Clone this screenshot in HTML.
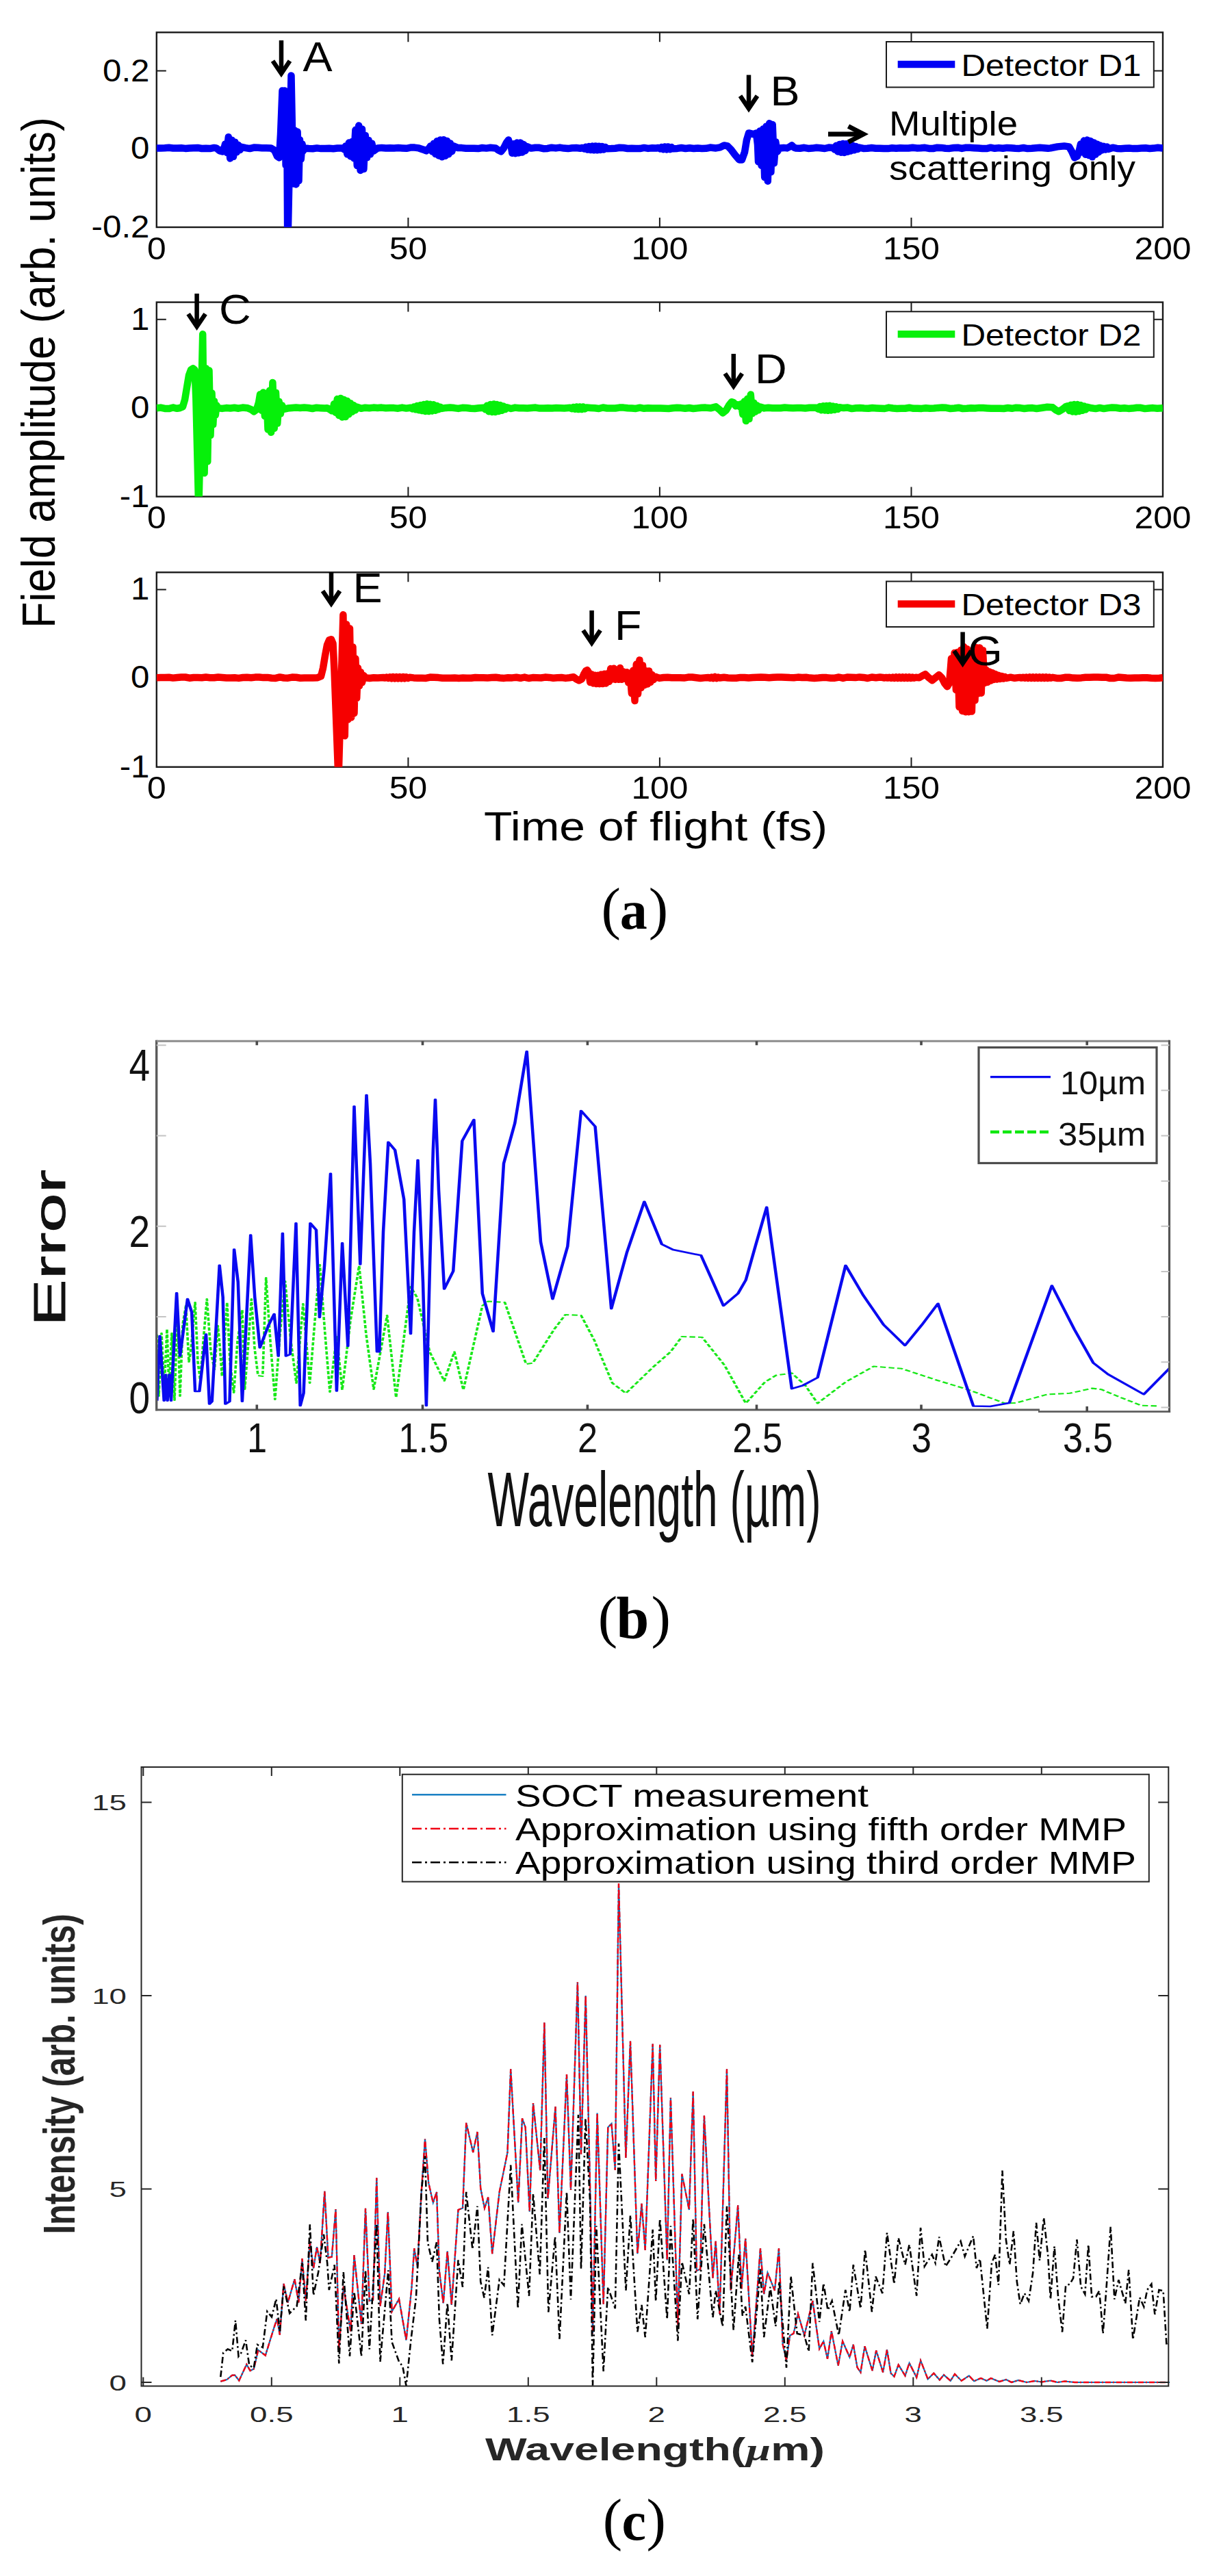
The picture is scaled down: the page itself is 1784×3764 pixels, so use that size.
<!DOCTYPE html>
<html><head><meta charset="utf-8"><title>Figure</title>
<style>
html,body{margin:0;padding:0;background:#fff;}
svg{display:block;font-family:"Liberation Sans", Arial, sans-serif;}
</style></head><body>
<svg width="1784" height="3764" viewBox="0 0 1784 3764">
<rect width="1784" height="3764" fill="#fff"/>
<g><rect x="228.8" y="47.3" width="1470.2" height="284.7" fill="none" stroke="#1a1a1a" stroke-width="2.4"/><path d="M596.4,332.0v-14M596.4,47.3v14M963.9,332.0v-14M963.9,47.3v14M1331.5,332.0v-14M1331.5,47.3v14M228.8,103.5h14M1699.0,103.5h-14M228.8,216.6h14M1699.0,216.6h-14" stroke="#1a1a1a" stroke-width="2" fill="none"/><clipPath id="cpa1"><rect x="228.8" y="47.3" width="1470.2" height="284.7"/></clipPath><polyline clip-path="url(#cpa1)" points="228.8,216.4 234.8,216.5 240.8,216.3 246.8,215.7 252.8,216.5 258.8,216.4 264.8,216.3 270.8,216.9 276.8,216.4 282.8,216.2 288.8,215.9 294.8,217.0 300.8,216.7 306.8,217.1 312.8,215.9 316.0,216.4 321.0,220.4 325.0,221.4 328.0,214.4 329.0,210.4 331.4,222.8 333.8,200.2 336.2,231.4 338.6,204.8 341.0,228.8 343.4,207.7 345.8,222.4 348.2,211.9 350.6,219.1 353.0,214.9 359.0,216.1 365.0,217.1 371.0,215.6 377.0,215.7 383.0,216.2 389.0,216.2 396.0,216.4 401.0,219.4 405.0,228.4 408.0,230.4 410.0,196.4 412.5,132.4 414.3,186.4 416.0,132.4 417.6,241.4 419.0,136.4 420.3,366.4 425.5,110.4 428.5,268.4 430.6,190.4 432.6,269.4 434.6,192.4 436.5,264.4 438.0,204.4 439.8,232.4 441.5,210.4 443.0,220.4 445.0,216.4 451.0,216.9 457.0,217.2 463.0,216.4 469.0,217.1 475.0,216.9 481.0,216.8 487.0,217.2 493.0,216.5 500.0,216.4 503.0,218.4 505.0,213.4 507.4,225.3 509.8,208.6 512.2,228.4 514.6,206.9 517.0,231.1 519.4,189.8 521.8,242.0 524.2,183.5 526.6,249.0 529.0,188.4 531.4,247.0 533.8,198.0 536.2,230.2 538.6,205.0 541.0,225.4 543.4,209.8 545.8,220.6 551.8,216.5 557.8,215.9 563.8,216.4 569.8,216.2 575.8,216.4 581.8,216.1 587.8,216.5 593.8,216.8 599.8,215.6 605.8,215.6 612.0,216.4 618.0,218.4 623.0,220.4 627.0,216.4 629.0,213.4 631.4,221.3 633.8,209.7 636.2,225.0 638.6,206.2 641.0,227.5 643.4,204.4 645.8,229.3 648.2,204.2 650.6,227.7 653.0,206.0 655.4,225.3 657.8,209.4 660.2,221.4 662.6,213.3 668.6,215.9 674.6,216.1 680.6,216.7 686.6,216.8 692.6,216.7 698.6,217.1 704.6,216.0 710.6,216.6 716.6,215.8 724.0,216.4 728.0,219.4 732.0,221.4 736.0,216.4 740.0,208.4 743.0,204.4 745.0,212.4 746.0,209.4 748.4,223.8 750.8,210.2 753.2,224.2 755.6,208.6 758.0,223.4 760.4,208.6 762.8,222.6 765.2,211.1 767.6,220.2 770.0,214.1 776.0,216.6 782.0,215.7 788.0,215.8 794.0,217.2 800.0,216.9 806.0,215.7 812.0,216.4 818.0,215.6 824.0,216.6 830.0,217.1 836.0,216.2 842.0,216.0 848.0,216.8 851.0,215.9 853.4,217.4 855.8,214.8 858.2,218.5 860.6,213.9 863.0,219.1 865.4,213.6 867.8,219.3 870.2,213.4 872.6,219.3 875.0,213.7 877.4,219.0 879.8,213.9 882.2,218.4 884.6,215.0 887.0,217.2 893.0,217.1 899.0,216.7 905.0,215.7 911.0,216.0 917.0,217.0 923.0,216.8 929.0,217.0 935.0,217.1 941.0,215.9 947.0,216.9 953.0,216.3 959.0,216.5 962.0,215.9 964.4,217.3 966.8,215.0 969.2,218.2 971.6,214.4 974.0,218.4 976.4,214.4 978.8,218.2 981.2,215.1 983.6,217.2 989.6,216.9 995.6,216.0 1001.6,217.0 1007.6,216.2 1013.6,217.0 1019.6,216.5 1025.6,216.9 1031.6,216.8 1037.6,215.6 1046.0,216.4 1052.0,215.4 1058.0,212.4 1063.0,213.4 1068.0,218.4 1074.0,226.4 1080.0,233.4 1084.0,233.4 1088.0,222.4 1091.0,204.4 1094.0,194.4 1098.0,195.4 1102.0,196.4 1105.0,194.4 1107.0,211.4 1108.0,236.4 1110.3,191.5 1112.6,241.9 1114.9,188.5 1117.2,259.1 1119.5,184.7 1121.8,264.8 1124.1,180.3 1126.4,251.6 1128.7,182.0 1131.0,238.4 1133.3,207.3 1135.6,221.8 1139.0,216.4 1145.0,215.9 1150.0,216.4 1154.0,214.4 1157.0,212.4 1160.0,215.4 1163.0,216.4 1169.0,216.7 1175.0,215.8 1181.0,216.9 1187.0,216.6 1193.0,215.8 1199.0,216.2 1205.0,217.0 1211.0,215.6 1217.0,215.9 1219.4,218.4 1221.8,212.8 1224.2,221.5 1226.6,210.9 1229.0,222.7 1231.4,210.0 1233.8,222.9 1236.2,210.2 1238.6,221.7 1241.0,210.8 1243.4,220.5 1245.8,212.6 1248.2,219.3 1250.6,214.1 1253.0,218.0 1255.4,215.5 1261.4,216.9 1267.4,216.8 1273.4,216.0 1279.4,216.7 1285.4,216.7 1291.4,217.1 1297.4,217.1 1303.4,216.3 1309.4,216.8 1315.4,216.2 1321.4,216.6 1327.4,216.5 1333.4,215.7 1339.4,216.4 1345.4,216.3 1351.4,215.8 1357.4,216.9 1363.4,217.0 1369.4,215.7 1375.4,215.9 1381.4,216.8 1387.4,216.9 1393.4,216.0 1399.4,215.7 1405.4,216.9 1411.4,215.7 1417.4,215.8 1423.4,216.2 1429.4,216.5 1435.4,217.0 1441.4,217.1 1447.4,215.7 1453.4,216.8 1459.4,216.1 1465.4,216.8 1471.4,215.9 1477.4,216.2 1483.4,216.7 1489.4,216.9 1495.4,216.0 1501.4,217.1 1507.4,216.8 1513.4,216.3 1519.4,215.8 1525.4,216.2 1531.4,216.8 1535.0,216.4 1545.0,214.4 1555.0,213.4 1562.0,214.4 1566.0,221.4 1570.0,230.4 1574.0,228.4 1577.0,219.4 1579.0,210.4 1581.4,222.3 1583.8,205.6 1586.2,225.8 1588.6,204.6 1591.0,226.9 1593.4,206.1 1595.8,229.3 1598.2,208.5 1600.6,225.6 1603.0,210.8 1605.4,222.3 1607.8,212.6 1610.2,219.4 1612.6,213.8 1615.0,218.6 1617.4,214.6 1619.8,217.8 1625.8,215.7 1631.8,216.9 1637.8,217.2 1643.8,216.8 1649.8,216.5 1655.8,217.1 1661.8,216.9 1667.8,216.6 1673.8,216.3 1679.8,217.0 1685.8,216.6 1691.8,215.8 1699.0,216.4" fill="none" stroke="#0000f5" stroke-width="10.5" stroke-linejoin="round" stroke-linecap="butt"/><text transform="translate(228.8,378.5) scale(1.0700,1)" font-size="46.5" text-anchor="middle">0</text><text transform="translate(596.4,378.5) scale(1.0700,1)" font-size="46.5" text-anchor="middle">50</text><text transform="translate(963.9,378.5) scale(1.0700,1)" font-size="46.5" text-anchor="middle">100</text><text transform="translate(1331.5,378.5) scale(1.0700,1)" font-size="46.5" text-anchor="middle">150</text><text transform="translate(1699.0,378.5) scale(1.0700,1)" font-size="46.5" text-anchor="middle">200</text><text transform="translate(218.5,118.5) scale(1.0600,1)" font-size="46.5" text-anchor="end">0.2</text><text transform="translate(218.5,231.6) scale(1.0600,1)" font-size="46.5" text-anchor="end">0</text><text transform="translate(218.5,346.8) scale(1.0600,1)" font-size="46.5" text-anchor="end">-0.2</text><rect x="1295" y="61" width="390.8" height="66.5" fill="#fff" stroke="#1a1a1a" stroke-width="2"/><path d="M1311.7,94H1395.3" stroke="#0000f5" stroke-width="10.5"/><text transform="translate(1404.5,110.5)" font-size="45" textLength="263" lengthAdjust="spacingAndGlyphs">Detector D1</text><path d="M411,59V106.5" stroke="#000" stroke-width="6.5" fill="none"/><path d="M398.5,89.0L411,107.5L423.5,89.0" stroke="#000" stroke-width="6.5" fill="none" stroke-linejoin="miter" stroke-miterlimit="10" stroke-linecap="butt"/><text transform="translate(442.5,104.3) scale(1.0600,1)" font-size="61">A</text><path d="M1094,109.5V157.6" stroke="#000" stroke-width="6.5" fill="none"/><path d="M1081.5,140.1L1094,158.6L1106.5,140.1" stroke="#000" stroke-width="6.5" fill="none" stroke-linejoin="miter" stroke-miterlimit="10" stroke-linecap="butt"/><text transform="translate(1125.5,153.6) scale(1.0600,1)" font-size="61">B</text><path d="M1210,196H1260.5" stroke="#000" stroke-width="7" fill="none"/><path d="M1239.5,184.5L1261.5,196L1239.5,207.5" stroke="#000" stroke-width="7" fill="none" stroke-miterlimit="10"/><text transform="translate(1299.0,198.4)" font-size="49.5" textLength="188" lengthAdjust="spacingAndGlyphs">Multiple</text><text transform="translate(1299.0,262.8)" font-size="49.5" textLength="238" lengthAdjust="spacingAndGlyphs">scattering</text><text transform="translate(1561.0,262.8)" font-size="49.5" textLength="98" lengthAdjust="spacingAndGlyphs">only</text></g><g><rect x="228.8" y="441.6" width="1470.2" height="284.0" fill="none" stroke="#1a1a1a" stroke-width="2.4"/><path d="M596.4,725.6v-14M596.4,441.6v14M963.9,725.6v-14M963.9,441.6v14M1331.5,725.6v-14M1331.5,441.6v14M228.8,466.7h14M1699.0,466.7h-14M228.8,596.2h14M1699.0,596.2h-14" stroke="#1a1a1a" stroke-width="2" fill="none"/><clipPath id="cpa2"><rect x="228.8" y="441.6" width="1470.2" height="284.0"/></clipPath><polyline clip-path="url(#cpa2)" points="228.8,596.3 234.8,595.6 240.8,596.9 246.8,597.1 252.8,595.5 258.8,596.8 262.0,596.3 267.0,594.3 270.0,584.3 273.0,566.3 276.0,548.3 279.0,540.3 282.0,538.3 284.5,540.3 286.3,581.3 290.3,746.3 296.2,488.3 298.6,691.3 301.0,538.3 303.3,674.3 305.5,541.3 307.5,636.3 309.5,574.3 311.3,620.3 313.0,586.3 314.8,606.3 316.5,592.3 318.5,596.3 324.5,596.9 330.5,596.1 336.5,596.5 342.5,595.7 348.5,596.7 354.5,595.6 362.0,596.3 367.0,598.3 371.0,601.3 375.0,598.3 378.0,588.3 380.0,576.3 382.3,599.8 384.6,573.4 386.9,608.1 389.2,575.9 391.5,627.6 393.8,570.8 396.1,631.8 398.4,558.9 400.7,626.0 403.0,573.8 405.3,618.5 407.6,586.7 409.9,604.6 412.2,592.5 414.5,598.0 420.5,596.6 426.5,596.1 432.5,595.6 438.5,596.0 444.5,595.6 450.5,596.0 456.5,597.0 462.5,595.7 468.5,596.2 474.5,596.6 478.0,596.3 482.0,598.3 485.0,600.3 487.0,596.3 488.0,590.3 490.4,602.7 492.8,583.1 495.2,607.0 497.6,582.0 500.0,609.5 502.4,584.0 504.8,608.9 507.2,586.0 509.6,605.2 512.0,589.2 514.4,601.7 516.8,592.2 519.2,599.2 521.6,594.6 527.6,596.8 533.6,595.7 539.6,596.2 545.6,595.6 551.6,595.9 557.6,595.6 563.6,596.2 569.6,596.0 575.6,596.1 581.6,596.7 587.6,595.6 593.6,596.6 600.0,595.8 602.4,597.3 604.8,594.4 607.2,598.3 609.6,593.0 612.0,599.3 614.4,591.9 616.8,600.1 619.2,591.1 621.6,600.9 624.0,590.3 626.4,601.1 628.8,590.8 631.2,600.6 633.6,591.3 636.0,599.7 638.4,592.9 640.8,598.3 643.2,594.7 645.6,596.9 651.6,595.9 657.6,595.6 663.6,596.1 669.6,596.9 675.6,595.8 681.6,596.0 687.6,596.8 693.6,597.0 699.6,596.2 707.0,595.8 709.4,598.3 711.8,592.7 714.2,601.3 716.6,591.0 719.0,601.9 721.4,590.4 723.8,601.9 726.2,591.1 728.6,601.0 731.0,592.1 733.4,599.8 735.8,593.6 738.2,598.1 740.6,595.3 746.6,597.0 752.6,595.6 758.6,596.3 764.6,596.3 770.6,596.4 776.6,596.0 782.6,595.6 788.6,596.6 794.6,596.5 800.6,596.2 806.6,596.6 812.6,596.1 818.6,596.2 824.6,596.4 833.0,595.8 835.4,597.1 837.8,595.1 840.2,597.8 842.6,594.5 845.0,598.1 847.4,594.5 849.8,598.1 852.2,594.5 854.6,597.5 857.0,595.6 863.0,596.0 869.0,596.3 875.0,597.0 881.0,595.5 887.0,596.5 893.0,596.4 899.0,596.5 905.0,595.6 911.0,595.6 917.0,596.3 923.0,596.5 929.0,596.9 935.0,595.7 941.0,596.8 947.0,596.2 953.0,596.5 959.0,596.6 965.0,596.5 971.0,596.8 977.0,597.0 983.0,596.2 989.0,595.8 995.0,596.1 1001.0,596.8 1007.0,596.0 1013.0,597.0 1019.0,596.4 1025.0,595.8 1031.0,595.6 1038.0,596.3 1046.0,594.3 1051.0,598.3 1056.0,603.3 1061.0,599.3 1065.0,592.3 1069.0,587.3 1072.0,588.3 1075.0,593.3 1078.0,591.3 1081.0,594.3 1083.0,590.3 1085.3,605.4 1087.6,586.6 1089.9,615.1 1092.2,582.7 1094.5,612.1 1096.8,576.6 1099.1,604.2 1101.4,588.7 1103.7,601.5 1106.0,592.3 1108.3,599.2 1110.6,594.6 1116.6,596.4 1122.6,595.7 1128.6,596.3 1134.6,596.3 1140.6,596.2 1146.6,595.5 1152.6,595.9 1158.6,596.3 1164.6,595.9 1170.6,596.1 1176.6,596.5 1182.6,595.8 1188.6,595.8 1193.0,595.8 1195.4,597.7 1197.8,594.1 1200.2,599.3 1202.6,593.2 1205.0,599.5 1207.4,593.0 1209.8,599.7 1212.2,592.8 1214.6,599.4 1217.0,593.6 1219.4,598.7 1221.8,594.3 1224.2,597.8 1226.6,595.3 1232.6,596.1 1238.6,595.6 1244.6,597.1 1250.6,596.3 1256.6,596.1 1262.6,596.6 1268.6,596.8 1274.6,596.0 1280.6,596.4 1286.6,596.7 1292.6,597.0 1298.6,595.6 1304.6,596.5 1310.6,596.9 1316.6,596.8 1322.6,596.7 1328.6,595.7 1334.6,596.8 1340.6,596.7 1346.6,596.9 1352.6,596.3 1358.6,596.8 1364.6,596.5 1370.6,595.9 1376.6,595.6 1382.6,595.8 1388.6,597.0 1394.6,596.5 1400.6,595.7 1406.6,597.0 1412.6,596.8 1418.6,596.3 1424.6,596.5 1430.6,595.9 1436.6,596.0 1442.6,596.4 1448.6,596.7 1454.6,596.7 1460.6,596.7 1466.6,597.0 1472.6,596.0 1478.6,596.8 1484.6,595.7 1490.6,596.1 1496.6,597.0 1502.6,596.3 1508.6,596.1 1514.6,597.0 1520.0,596.3 1530.0,594.8 1538.0,595.3 1543.0,599.3 1547.0,601.3 1552.0,598.3 1557.0,594.3 1560.0,593.3 1562.4,600.1 1564.8,591.7 1567.2,601.4 1569.6,591.0 1572.0,601.7 1574.4,591.1 1576.8,601.0 1579.2,592.1 1581.6,599.8 1584.0,593.5 1586.4,598.4 1588.8,594.9 1594.8,596.3 1600.8,597.1 1606.8,595.9 1612.8,597.1 1618.8,596.1 1624.8,595.5 1630.8,595.7 1636.8,596.7 1642.8,596.2 1648.8,596.9 1654.8,596.6 1660.8,595.7 1666.8,595.8 1672.8,597.1 1678.8,596.5 1684.8,596.1 1690.8,596.8 1699.0,596.3" fill="none" stroke="#06f00a" stroke-width="10.5" stroke-linejoin="round" stroke-linecap="butt"/><text transform="translate(228.8,772.1) scale(1.0700,1)" font-size="46.5" text-anchor="middle">0</text><text transform="translate(596.4,772.1) scale(1.0700,1)" font-size="46.5" text-anchor="middle">50</text><text transform="translate(963.9,772.1) scale(1.0700,1)" font-size="46.5" text-anchor="middle">100</text><text transform="translate(1331.5,772.1) scale(1.0700,1)" font-size="46.5" text-anchor="middle">150</text><text transform="translate(1699.0,772.1) scale(1.0700,1)" font-size="46.5" text-anchor="middle">200</text><text transform="translate(218.5,481.7) scale(1.0600,1)" font-size="46.5" text-anchor="end">1</text><text transform="translate(218.5,611.2) scale(1.0600,1)" font-size="46.5" text-anchor="end">0</text><text transform="translate(218.5,740.5) scale(1.0600,1)" font-size="46.5" text-anchor="end">-1</text><rect x="1295" y="455.3" width="390.8" height="66.5" fill="#fff" stroke="#1a1a1a" stroke-width="2"/><path d="M1311.7,488.3H1395.3" stroke="#06f00a" stroke-width="10.5"/><text transform="translate(1404.5,504.8)" font-size="45" textLength="263" lengthAdjust="spacingAndGlyphs">Detector D2</text><path d="M287.6,429V476.3" stroke="#000" stroke-width="6.5" fill="none"/><path d="M275.1,458.8L287.6,477.3L300.1,458.8" stroke="#000" stroke-width="6.5" fill="none" stroke-linejoin="miter" stroke-miterlimit="10" stroke-linecap="butt"/><text transform="translate(320.0,472.8) scale(1.0600,1)" font-size="61">C</text><path d="M1071.8,517V563.3" stroke="#000" stroke-width="6.5" fill="none"/><path d="M1059.3,545.8L1071.8,564.3L1084.3,545.8" stroke="#000" stroke-width="6.5" fill="none" stroke-linejoin="miter" stroke-miterlimit="10" stroke-linecap="butt"/><text transform="translate(1103.0,560.0) scale(1.0600,1)" font-size="61">D</text></g><g><rect x="228.8" y="836.3" width="1470.2" height="284.4000000000001" fill="none" stroke="#1a1a1a" stroke-width="2.4"/><path d="M596.4,1120.7v-14M596.4,836.3v14M963.9,1120.7v-14M963.9,836.3v14M1331.5,1120.7v-14M1331.5,836.3v14M228.8,861.4h14M1699.0,861.4h-14M228.8,990.4h14M1699.0,990.4h-14" stroke="#1a1a1a" stroke-width="2" fill="none"/><clipPath id="cpa3"><rect x="228.8" y="836.3" width="1470.2" height="284.4000000000001"/></clipPath><polyline clip-path="url(#cpa3)" points="228.8,990.2 234.8,990.1 240.8,990.0 246.8,989.7 252.8,990.6 258.8,990.0 264.8,989.6 270.8,989.5 276.8,990.7 282.8,990.0 288.8,990.0 294.8,990.2 300.8,989.5 306.8,990.2 312.8,990.3 318.8,989.5 324.8,990.0 330.8,990.5 336.8,990.5 342.8,990.2 348.8,990.9 354.8,990.0 360.8,989.8 366.8,990.3 372.8,989.6 378.8,989.5 384.8,990.1 390.8,989.9 396.8,990.8 402.8,990.9 408.8,989.4 414.8,990.5 420.8,990.7 426.8,989.6 432.8,989.8 438.8,990.8 444.8,990.5 450.8,990.6 456.8,990.6 464.0,990.2 469.0,988.2 472.0,976.2 475.0,958.2 478.0,942.2 481.0,935.2 484.0,934.2 486.5,940.2 488.5,980.2 494.5,1140.2 501.4,898.2 503.8,1075.2 506.2,912.2 508.6,1051.2 511.0,918.2 513.3,1048.2 515.5,945.2 517.5,1042.2 519.4,962.2 521.2,1020.2 523.0,976.2 525.0,1002.2 527.0,982.2 529.0,997.2 531.5,987.2 534.0,990.2 540.0,991.0 546.0,990.2 552.0,990.5 560.0,989.9 562.4,990.6 564.8,989.6 567.2,990.9 569.6,989.3 572.0,991.2 574.4,989.0 576.8,991.4 579.2,989.0 581.6,991.4 584.0,989.0 586.4,991.4 588.8,989.0 591.2,991.3 593.6,989.3 596.0,990.9 598.4,989.8 604.4,990.4 610.4,990.7 616.4,990.8 622.4,990.9 628.4,989.6 634.4,989.8 640.4,990.1 646.4,990.8 652.4,990.8 658.4,990.8 664.4,990.5 670.4,990.9 676.4,990.6 682.4,990.7 688.4,990.7 694.4,990.0 700.4,990.3 706.4,990.2 712.4,990.4 718.4,990.1 724.4,989.7 730.4,990.5 736.4,990.9 742.4,990.2 748.4,990.4 754.4,989.8 760.4,990.8 766.4,989.6 772.4,991.0 778.4,990.1 784.4,990.3 790.4,990.5 796.4,989.6 802.4,989.9 808.4,990.7 814.4,990.2 820.4,990.0 826.4,990.9 832.0,990.2 838.0,989.2 842.0,992.2 846.0,994.2 850.0,992.2 853.0,985.2 856.0,980.2 858.0,979.2 860.0,982.2 862.3,997.0 864.6,985.3 866.9,998.4 869.2,986.7 871.5,999.1 873.8,986.8 876.1,999.2 878.4,985.6 880.7,999.1 883.0,984.8 885.3,998.5 887.6,984.3 889.9,995.8 892.2,977.1 894.5,992.4 896.8,976.7 899.1,992.9 901.4,979.9 903.7,992.8 906.0,976.0 908.3,992.8 910.6,981.5 912.9,991.7 916.0,982.2 918.3,997.6 920.6,983.9 922.9,1013.2 925.2,979.8 927.5,1024.1 929.8,970.6 932.1,1013.8 934.4,964.4 936.7,1004.8 939.0,972.2 941.3,1001.1 943.6,980.2 945.9,999.6 948.2,980.4 950.5,996.7 952.8,986.0 955.1,992.9 957.4,988.8 963.4,990.9 969.4,990.0 975.4,989.8 981.4,990.3 987.4,990.3 993.4,990.2 999.4,990.6 1005.4,989.6 1011.4,989.5 1017.4,990.2 1023.4,991.0 1029.4,990.4 1035.0,989.9 1037.4,990.7 1039.8,989.5 1042.2,991.1 1044.6,989.0 1047.0,991.1 1049.4,989.6 1051.8,990.5 1057.8,989.7 1063.8,990.5 1069.8,990.8 1075.8,990.7 1081.8,989.9 1087.8,990.0 1093.8,990.5 1099.8,990.0 1105.8,989.8 1111.8,989.5 1117.8,989.7 1123.8,990.3 1129.8,989.7 1135.8,989.5 1141.8,989.6 1147.8,989.8 1153.8,990.1 1159.8,990.2 1165.8,989.6 1171.8,990.0 1177.8,989.8 1183.8,990.6 1189.8,990.9 1195.8,990.6 1201.8,990.1 1207.8,990.1 1213.8,990.7 1219.8,990.7 1225.8,989.5 1231.8,990.9 1237.8,989.5 1243.8,989.8 1249.8,990.1 1255.8,989.4 1261.8,989.9 1267.8,991.0 1273.8,989.5 1279.8,990.3 1285.8,989.5 1290.0,990.0 1292.4,990.5 1294.8,989.9 1297.2,990.6 1299.6,989.7 1302.0,990.8 1304.4,989.6 1306.8,990.9 1309.2,989.4 1311.6,991.0 1314.0,989.4 1316.4,991.0 1318.8,989.4 1321.2,991.0 1323.6,989.4 1326.0,991.0 1328.4,989.4 1330.8,991.0 1333.2,989.6 1335.6,990.7 1338.0,989.8 1343.0,990.2 1348.0,987.2 1352.0,985.2 1357.0,990.2 1362.0,994.2 1367.0,990.2 1372.0,986.2 1376.0,990.2 1380.0,998.2 1384.0,1003.2 1387.0,998.2 1389.0,975.2 1390.0,962.2 1392.3,993.3 1394.6,953.9 1396.9,1008.2 1399.2,952.9 1401.5,1033.2 1403.8,950.1 1406.1,1038.9 1408.4,945.1 1410.7,1040.2 1413.0,948.2 1415.3,1040.2 1417.6,953.1 1419.9,1039.6 1422.2,950.0 1424.5,1023.6 1426.8,946.2 1429.1,1013.6 1431.4,946.5 1433.7,1012.7 1436.0,950.2 1438.3,998.1 1440.6,978.8 1442.9,996.8 1445.2,981.4 1447.5,994.5 1449.8,983.1 1452.1,993.0 1454.4,985.0 1456.7,992.5 1459.0,986.8 1461.3,992.0 1463.6,987.9 1465.9,991.5 1468.2,988.9 1470.5,990.9 1476.5,989.7 1482.5,990.8 1490.0,989.9 1492.4,990.6 1494.8,989.7 1497.2,990.7 1499.6,989.6 1502.0,990.9 1504.4,989.4 1506.8,991.0 1509.2,989.4 1511.6,991.0 1514.0,989.4 1516.4,991.0 1518.8,989.4 1521.2,991.0 1523.6,989.4 1526.0,991.0 1528.4,989.4 1530.8,991.0 1533.2,989.6 1535.6,990.7 1538.0,989.8 1544.0,990.9 1550.0,991.0 1556.0,989.8 1562.0,989.7 1568.0,990.6 1574.0,990.8 1580.0,990.4 1586.0,989.7 1592.0,989.8 1598.0,989.6 1604.0,989.5 1610.0,989.8 1616.0,989.7 1622.0,991.0 1628.0,991.0 1634.0,989.6 1640.0,990.0 1646.0,990.5 1652.0,990.8 1658.0,990.5 1664.0,990.5 1670.0,990.2 1676.0,990.3 1682.0,990.7 1688.0,990.9 1694.0,990.7 1699.0,990.2" fill="none" stroke="#f60000" stroke-width="10.5" stroke-linejoin="round" stroke-linecap="butt"/><text transform="translate(228.8,1167.2) scale(1.0700,1)" font-size="46.5" text-anchor="middle">0</text><text transform="translate(596.4,1167.2) scale(1.0700,1)" font-size="46.5" text-anchor="middle">50</text><text transform="translate(963.9,1167.2) scale(1.0700,1)" font-size="46.5" text-anchor="middle">100</text><text transform="translate(1331.5,1167.2) scale(1.0700,1)" font-size="46.5" text-anchor="middle">150</text><text transform="translate(1699.0,1167.2) scale(1.0700,1)" font-size="46.5" text-anchor="middle">200</text><text transform="translate(218.5,876.4) scale(1.0600,1)" font-size="46.5" text-anchor="end">1</text><text transform="translate(218.5,1005.4) scale(1.0600,1)" font-size="46.5" text-anchor="end">0</text><text transform="translate(218.5,1135.5) scale(1.0600,1)" font-size="46.5" text-anchor="end">-1</text><rect x="1295" y="849.5" width="390.8" height="66.5" fill="#fff" stroke="#1a1a1a" stroke-width="2"/><path d="M1311.7,882.5H1395.3" stroke="#f60000" stroke-width="10.5"/><text transform="translate(1404.5,899.0)" font-size="45" textLength="263" lengthAdjust="spacingAndGlyphs">Detector D3</text><path d="M484,836V881" stroke="#000" stroke-width="6.5" fill="none"/><path d="M471.5,863.5L484,882L496.5,863.5" stroke="#000" stroke-width="6.5" fill="none" stroke-linejoin="miter" stroke-miterlimit="10" stroke-linecap="butt"/><text transform="translate(515.6,880.0) scale(1.0600,1)" font-size="61">E</text><path d="M864.6,892V938.5" stroke="#000" stroke-width="6.5" fill="none"/><path d="M852.1,921.0L864.6,939.5L877.1,921.0" stroke="#000" stroke-width="6.5" fill="none" stroke-linejoin="miter" stroke-miterlimit="10" stroke-linecap="butt"/><text transform="translate(898.0,935.0) scale(1.0600,1)" font-size="61">F</text><path d="M1406.6,923.5V968.5" stroke="#000" stroke-width="6.5" fill="none"/><path d="M1394.1,951.0L1406.6,969.5L1419.1,951.0" stroke="#000" stroke-width="6.5" fill="none" stroke-linejoin="miter" stroke-miterlimit="10" stroke-linecap="butt"/><text transform="translate(1414.5,971.5) scale(1.0600,1)" font-size="61">G</text></g><text transform="translate(707.0,1228.4)" font-size="60" textLength="502" lengthAdjust="spacingAndGlyphs">Time of flight (fs)</text><text transform="translate(80.0,918.0) rotate(-90)" font-size="68" textLength="747" lengthAdjust="spacingAndGlyphs">Field amplitude (arb. units)</text>
<g><clipPath id="cpb"><rect x="228.7" y="1521.2" width="1479.8" height="538.8"/></clipPath><g clip-path="url(#cpb)"><g transform="scale(1.75,1)"><polyline points="130.86,1950.0 132.57,2040.0 134.86,1948.0 137.14,2030.0 139.43,1942.0 141.14,2030.0 143.43,1948.0 145.71,2046.0 148.17,1913.0 150.29,2040.0 152.57,1935.0 155.20,1908.0 157.71,1990.0 159.43,1972.0 162.91,1903.0 165.14,1990.0 167.14,2016.0 169.71,1960.0 172.74,1898.0 176.00,1975.0 179.09,2001.0 181.89,1937.0 183.43,1965.0 185.37,2011.0 189.60,1903.0 192.00,1990.0 195.20,2035.0 198.29,1960.0 202.23,1914.0 204.34,2030.0 207.43,1960.0 209.94,1898.0 212.57,1970.0 215.43,2010.0 219.31,2011.0 222.11,1867.0 225.71,1960.0 229.60,2045.0 233.71,1950.0 238.06,1872.0 242.86,1960.0 247.43,2021.0 253.03,1905.0 258.63,2021.0 262.86,1930.0 267.03,1848.0 271.43,1950.0 275.43,2034.0 281.14,1952.0 285.71,2031.0 292.57,1930.0 299.83,1849.5 305.71,1950.0 312.00,2030.0 323.20,1922.0 330.69,2042.0 342.86,1880.0 348.46,1896.6 358.74,1975.2 370.91,2017.8 379.37,1975.2 386.86,2030.9 402.74,1908.0 407.43,1901.5 421.49,1903.0 439.26,1993.2 444.86,1991.6 462.69,1942.4 472.00,1921.0 485.14,1922.0 496.34,1958.8 511.31,2021.0 522.57,2035.8 545.03,1998.0 560.00,1975.0 569.37,1953.0 586.23,1954.0 604.91,1994.8 622.69,2050.5 638.63,2019.4 648.00,2009.6 661.09,2006.3 672.34,2024.3 682.63,2050.5 706.00,2019.4 729.43,1996.5 752.80,1999.8 782.74,2017.0 808.97,2030.9 838.86,2050.5 848.29,2049.9 874.51,2037.4 893.14,2035.8 911.94,2028.6 919.43,2030.2 936.29,2042.4 953.14,2053.8 968.00,2054.5" fill="none" stroke="#18e818" stroke-width="2.1" stroke-dasharray="4.8 2.4" stroke-linejoin="round"/><polyline points="131.03,2046.6 133.43,1952.0 136.97,2046.6 138.34,2008.5 139.77,2046.6 141.43,2008.5 142.86,2046.6 147.49,1889.3 150.29,1981.5 156.57,1898.0 160.11,1917.6 162.91,2033.0 166.46,2033.0 172.00,1949.5 174.86,2051.5 176.97,2047.8 183.26,1848.8 186.11,1895.5 188.17,2051.5 191.71,2047.8 195.49,1825.5 198.74,1873.4 202.23,2047.8 209.26,1804.6 212.74,1895.5 216.97,1969.2 224.00,1937.2 228.91,1920.0 232.40,1981.5 235.94,1802.0 238.74,1981.5 242.23,1979.0 247.14,1787.4 250.69,2054.0 253.49,2035.5 259.09,1787.4 264.00,1797.2 266.80,1925.0 270.86,1850.0 276.00,1714.7 281.09,2032.5 285.77,1816.3 290.46,1967.0 295.71,1616.5 300.74,1847.4 306.00,1600.0 309.14,1700.0 314.80,1975.2 316.69,1975.2 320.00,1800.0 324.17,1668.9 329.77,1680.4 337.26,1752.4 342.86,1949.0 345.71,1800.0 348.86,1695.0 353.14,1873.6 355.94,2054.0 358.86,1850.0 361.60,1680.4 363.43,1606.6 366.29,1739.3 370.91,1883.5 378.40,1857.3 385.89,1667.2 395.66,1636.1 402.74,1890.0 411.77,1945.7 420.57,1700.0 429.89,1641.0 439.83,1536.2 451.43,1814.7 461.37,1898.2 473.89,1821.2 485.14,1623.0 496.91,1646.0 510.40,1912.3 523.49,1829.4 537.94,1755.7 552.51,1818.0 561.89,1826.1 585.26,1834.3 593.71,1867.1 604.00,1908.0 616.17,1890.0 622.69,1870.4 631.14,1818.0 640.11,1763.9 661.09,2029.2 670.46,2024.3 682.63,2012.9 706.00,1849.0 720.97,1893.3 737.83,1935.9 755.60,1966.0 769.66,1935.9 783.14,1904.8 812.69,2054.5 826.74,2055.0 842.69,2050.0 878.23,1878.5 896.97,1942.4 912.86,1991.6 925.03,2008.0 954.97,2037.4 977.09,1998.1" fill="none" stroke="#0a0af0" stroke-width="2.6" stroke-linejoin="round"/></g></g><path d="M228.7,1519.7V2061.3" stroke="#5a5a5a" stroke-width="3.4" fill="none"/><path d="M227.0,2060H1519M1517,2062.6H1710.1" stroke="#5e5e5e" stroke-width="2.8" fill="none"/><path d="M228.7,1521.2H1708.5" stroke="#8c8c8c" stroke-width="3" fill="none"/><path d="M1708.5,1519.7V2064" stroke="#555" stroke-width="3.2" fill="none"/><path d="M375.3,2060v-7.5M375.3,1521.2v6M617.5,2060v-7.5M617.5,1521.2v6M858.4,2060v-7.5M858.4,1521.2v6M1105.5,2060v-7.5M1105.5,1521.2v6M1346.0,2060v-7.5M1346.0,1521.2v6M1588.2,2062.6v-7.5M1588.2,1521.2v6" stroke="#4a4a4a" stroke-width="3.6" fill="none"/><path d="M1708.5,2056.4h-12M1708.5,1990.2h-12M228.7,1924.1h14M1708.5,1924.1h-12M1708.5,1858.0h-12M228.7,1791.8h14M1708.5,1791.8h-12M1708.5,1725.7h-12M228.7,1659.5h14M1708.5,1659.5h-12M1708.5,1593.3h-12M228.7,1527.2h14M1708.5,1527.2h-12" stroke="#c4c4c4" stroke-width="2" fill="none"/><text transform="translate(375.6,2121.5) scale(0.8600,1)" font-size="61" text-anchor="middle" fill="#111">1</text><text transform="translate(618.7,2121.5) scale(0.8600,1)" font-size="61" text-anchor="middle" fill="#111">1.5</text><text transform="translate(858.7,2121.5) scale(0.8600,1)" font-size="61" text-anchor="middle" fill="#111">2</text><text transform="translate(1106.7,2121.5) scale(0.8600,1)" font-size="61" text-anchor="middle" fill="#111">2.5</text><text transform="translate(1346.3,2121.5) scale(0.8600,1)" font-size="61" text-anchor="middle" fill="#111">3</text><text transform="translate(1589.4,2121.5) scale(0.8600,1)" font-size="61" text-anchor="middle" fill="#111">3.5</text><text transform="translate(219.0,1578.5) scale(0.8600,1)" font-size="64" text-anchor="end" fill="#111">4</text><text transform="translate(219.0,1822.0) scale(0.8600,1)" font-size="64" text-anchor="end" fill="#111">2</text><text transform="translate(219.0,2065.0) scale(0.8600,1)" font-size="64" text-anchor="end" fill="#111">0</text><rect x="1430" y="1530.5" width="260" height="169" fill="#fff" stroke="#4d4d4d" stroke-width="3.2"/><path d="M1447,1573.6H1535" stroke="#0a0af0" stroke-width="3.4"/><path d="M1447,1654H1534" stroke="#10e810" stroke-width="4.5" stroke-dasharray="13 5"/><text transform="translate(1549.0,1598.5)" font-size="48" fill="#111" textLength="125" lengthAdjust="spacingAndGlyphs">10µm</text><text transform="translate(1546.0,1674.0)" font-size="48" fill="#111" textLength="128" lengthAdjust="spacingAndGlyphs">35µm</text><text transform="translate(712.5,2230.0)" font-size="114" fill="#111" textLength="487" lengthAdjust="spacingAndGlyphs">Wavelength (µm)</text><text transform="translate(95.3,1938.0) rotate(-90)" font-size="65.5" fill="#111" stroke="#111" stroke-width="0.9" textLength="229" lengthAdjust="spacingAndGlyphs">Error</text></g>
<g><clipPath id="cpc"><rect x="206.5" y="2582.0" width="1502.8" height="904.5"/></clipPath><g clip-path="url(#cpc)"><polyline points="322.3,3479.7 331.4,3477.1 339.3,3470.6 343.2,3470.6 349.3,3478.4 360.3,3454.8 365.5,3464.0 370.8,3461.4 377.3,3433.9 387.8,3441.7 399.6,3403.7 404.8,3388.0 408.8,3411.6 414.5,3336.9 420.6,3364.4 430.5,3330.4 436.3,3364.4 441.5,3300.2 446.8,3361.8 452.8,3275.3 458.0,3314.6 463.0,3283.2 467.7,3306.8 474.3,3201.9 479.5,3298.9 484.8,3297.6 490.5,3228.1 495.3,3432.6 501.8,3340.8 512.3,3406.4 517.5,3295.0 528.0,3395.9 534.0,3226.8 539.8,3361.8 545.0,3360.5 550.3,3182.3 555.5,3369.7 562.1,3322.5 566.8,3232.1 572.6,3377.5 583.0,3359.2 593.5,3419.5 601.4,3343.5 605.2,3285.3 610.0,3312.8 615.7,3202.8 621.0,3125.5 626.2,3189.7 632.8,3218.5 638.0,3202.8 641.9,3318.1 647.7,3365.3 653.7,3289.3 659.8,3367.9 669.5,3229.0 676.0,3226.4 681.2,3101.9 691.2,3145.1 697.5,3115.0 702.2,3197.5 708.0,3226.4 713.2,3210.6 719.2,3293.2 729.7,3202.8 741.5,3145.1 746.2,3023.2 752.0,3126.8 757.2,3218.5 763.0,3095.3 767.7,3108.4 773.8,3231.6 779.0,3073.0 789.2,3171.3 795.4,2955.4 800.5,3213.0 811.5,3078.0 817.5,3263.0 828.0,3031.0 834.0,3200.0 843.9,2896.4 849.0,3147.7 855.7,2916.0 862.0,3189.7 866.0,3409.8 872.6,3087.5 881.7,3366.6 888.3,3108.4 893.5,3103.0 898.8,3171.0 904.0,2752.0 914.4,3153.0 921.0,2982.6 931.4,3293.2 937.5,3219.8 942.7,3287.9 953.7,2986.6 958.2,3187.0 964.2,2987.9 974.7,3302.4 979.9,3065.2 990.4,3396.7 996.4,3176.6 1006.9,3229.0 1012.7,3056.0 1017.9,3318.1 1023.2,3315.5 1028.9,3091.4 1041.5,3328.6 1045.7,3274.8 1051.5,3381.0 1062.0,3023.2 1067.7,3346.9 1078.2,3222.4 1083.5,3344.3 1089.2,3270.9 1099.2,3443.9 1111.0,3285.3 1116.2,3352.2 1121.5,3320.7 1131.9,3346.9 1138.0,3285.3 1143.7,3425.5 1149.0,3449.1 1154.2,3412.4 1159.5,3409.8 1166.0,3381.0 1175.2,3412.4 1187.4,3362.0 1197.2,3432.0 1203.3,3421.0 1209.0,3446.8 1214.9,3406.2 1224.7,3456.6 1231.1,3421.0 1241.4,3444.3 1246.8,3425.9 1252.5,3459.1 1257.4,3466.4 1263.5,3428.4 1274.6,3464.0 1280.2,3434.5 1290.1,3466.4 1296.0,3433.3 1301.6,3467.7 1306.5,3472.6 1312.7,3455.4 1322.5,3471.4 1328.6,3452.9 1339.2,3473.8 1345.1,3449.2 1355.7,3476.3 1364.3,3467.7 1372.9,3477.5 1379.0,3470.1 1388.8,3478.7 1395.0,3468.9 1404.8,3478.7 1415.9,3471.4 1423.2,3479.2 1433.1,3475.0 1441.7,3478.7 1447.8,3475.0 1460.1,3480.0 1470.0,3477.0 1478.0,3481.0 1488.0,3478.0 1500.0,3481.0 1512.0,3479.0 1522.0,3480.5 1535.0,3478.5 1545.0,3481.0 1556.0,3479.5 1570.0,3481.0 1600.0,3481.0 1650.0,3481.0 1709.0,3481.0" fill="none" stroke="#0072bd" stroke-width="2.2" stroke-linejoin="miter"/><polyline points="322.3,3479.7 331.4,3477.1 339.3,3470.6 343.2,3470.6 349.3,3478.4 360.3,3454.8 365.5,3464.0 370.8,3461.4 377.3,3433.9 387.8,3441.7 399.6,3403.7 404.8,3388.0 408.8,3411.6 414.5,3336.9 420.6,3364.4 430.5,3330.4 436.3,3364.4 441.5,3300.2 446.8,3361.8 452.8,3275.3 458.0,3314.6 463.0,3283.2 467.7,3306.8 474.3,3201.9 479.5,3298.9 484.8,3297.6 490.5,3228.1 495.3,3432.6 501.8,3340.8 512.3,3406.4 517.5,3295.0 528.0,3395.9 534.0,3226.8 539.8,3361.8 545.0,3360.5 550.3,3182.3 555.5,3369.7 562.1,3322.5 566.8,3232.1 572.6,3377.5 583.0,3359.2 593.5,3419.5 601.4,3343.5 605.2,3285.3 610.0,3312.8 615.7,3202.8 621.0,3125.5 626.2,3189.7 632.8,3218.5 638.0,3202.8 641.9,3318.1 647.7,3365.3 653.7,3289.3 659.8,3367.9 669.5,3229.0 676.0,3226.4 681.2,3101.9 691.2,3145.1 697.5,3115.0 702.2,3197.5 708.0,3226.4 713.2,3210.6 719.2,3293.2 729.7,3202.8 741.5,3145.1 746.2,3023.2 752.0,3126.8 757.2,3218.5 763.0,3095.3 767.7,3108.4 773.8,3231.6 779.0,3073.0 789.2,3171.3 795.4,2955.4 800.5,3213.0 811.5,3078.0 817.5,3263.0 828.0,3031.0 834.0,3200.0 843.9,2896.4 849.0,3147.7 855.7,2916.0 862.0,3189.7 866.0,3409.8 872.6,3087.5 881.7,3366.6 888.3,3108.4 893.5,3103.0 898.8,3171.0 904.0,2752.0 914.4,3153.0 921.0,2982.6 931.4,3293.2 937.5,3219.8 942.7,3287.9 953.7,2986.6 958.2,3187.0 964.2,2987.9 974.7,3302.4 979.9,3065.2 990.4,3396.7 996.4,3176.6 1006.9,3229.0 1012.7,3056.0 1017.9,3318.1 1023.2,3315.5 1028.9,3091.4 1041.5,3328.6 1045.7,3274.8 1051.5,3381.0 1062.0,3023.2 1067.7,3346.9 1078.2,3222.4 1083.5,3344.3 1089.2,3270.9 1099.2,3443.9 1111.0,3285.3 1116.2,3352.2 1121.5,3320.7 1131.9,3346.9 1138.0,3285.3 1143.7,3425.5 1149.0,3449.1 1154.2,3412.4 1159.5,3409.8 1166.0,3381.0 1175.2,3412.4 1187.4,3362.0 1197.2,3432.0 1203.3,3421.0 1209.0,3446.8 1214.9,3406.2 1224.7,3456.6 1231.1,3421.0 1241.4,3444.3 1246.8,3425.9 1252.5,3459.1 1257.4,3466.4 1263.5,3428.4 1274.6,3464.0 1280.2,3434.5 1290.1,3466.4 1296.0,3433.3 1301.6,3467.7 1306.5,3472.6 1312.7,3455.4 1322.5,3471.4 1328.6,3452.9 1339.2,3473.8 1345.1,3449.2 1355.7,3476.3 1364.3,3467.7 1372.9,3477.5 1379.0,3470.1 1388.8,3478.7 1395.0,3468.9 1404.8,3478.7 1415.9,3471.4 1423.2,3479.2 1433.1,3475.0 1441.7,3478.7 1447.8,3475.0 1460.1,3480.0 1470.0,3477.0 1478.0,3481.0 1488.0,3478.0 1500.0,3481.0 1512.0,3479.0 1522.0,3480.5 1535.0,3478.5 1545.0,3481.0 1556.0,3479.5 1570.0,3481.0 1600.0,3481.0 1650.0,3481.0 1709.0,3481.0" fill="none" stroke="#f00014" stroke-width="2.4" stroke-dasharray="8 3 2 3" stroke-linejoin="miter"/><polyline points="322.3,3473.2 326.2,3437.8 332.8,3432.6 339.3,3435.2 344.0,3390.6 348.5,3443.0 352.4,3437.8 359.0,3419.5 364.2,3456.2 370.8,3460.1 376.0,3426.0 383.9,3429.9 390.4,3377.5 397.0,3385.4 403.5,3359.2 408.8,3406.4 414.5,3340.8 423.2,3380.1 433.7,3369.7 441.5,3306.8 446.8,3390.6 452.8,3250.4 458.0,3353.9 465.1,3319.9 473.0,3264.8 478.2,3306.8 480.8,3346.1 488.7,3309.4 495.3,3453.5 501.8,3319.9 511.0,3443.0 517.5,3348.7 528.0,3443.0 534.0,3317.2 539.8,3432.6 550.3,3249.1 555.5,3450.9 567.3,3317.2 572.6,3422.1 583.0,3450.9 588.3,3457.5 593.5,3486.3 600.1,3422.1 607.9,3357.4 615.7,3202.8 621.0,3150.4 624.9,3276.2 631.4,3305.0 638.0,3276.2 641.9,3388.8 647.2,3454.4 653.7,3365.3 659.8,3449.1 669.5,3302.4 676.0,3341.7 681.2,3202.8 690.4,3286.6 697.5,3223.7 702.2,3333.8 707.5,3357.4 713.2,3312.8 719.2,3412.4 729.7,3331.2 736.3,3339.1 746.2,3163.5 756.7,3373.1 762.5,3249.9 773.0,3354.8 779.0,3205.4 788.7,3323.3 795.3,3124.1 801.3,3378.4 811.0,3268.3 817.5,3417.7 828.0,3202.8 834.0,3360.0 845.0,3090.1 849.0,3315.5 855.5,3095.3 862.1,3215.9 866.0,3485.8 871.3,3252.6 881.7,3464.9 888.3,3341.7 898.8,3373.1 904.0,3132.0 914.5,3346.9 921.0,3236.8 931.4,3407.2 937.5,3367.9 942.7,3415.1 953.7,3257.8 958.2,3362.6 964.2,3242.1 974.7,3388.8 979.9,3252.6 990.4,3420.3 996.4,3305.0 1006.9,3352.2 1012.7,3242.1 1019.2,3388.8 1028.9,3249.9 1041.5,3386.2 1045.7,3346.9 1055.9,3399.3 1062.0,3223.7 1071.7,3404.6 1079.5,3294.5 1084.8,3383.6 1089.2,3370.5 1099.2,3451.7 1111.0,3315.5 1116.2,3415.1 1125.4,3341.7 1133.3,3399.3 1138.5,3333.8 1149.0,3459.6 1155.5,3325.9 1164.7,3409.8 1175.2,3412.4 1181.7,3436.0 1187.4,3306.7 1197.2,3392.7 1203.3,3336.2 1209.5,3375.5 1215.6,3362.0 1225.5,3412.4 1235.3,3346.0 1241.4,3378.0 1246.8,3309.2 1257.4,3373.1 1264.0,3287.1 1273.9,3378.0 1279.5,3326.4 1289.3,3351.0 1296.0,3262.5 1306.5,3337.4 1312.7,3269.9 1322.5,3309.2 1328.6,3279.7 1339.2,3354.6 1345.1,3255.1 1350.8,3311.6 1361.8,3294.4 1366.7,3306.7 1372.1,3268.6 1381.5,3311.6 1388.8,3300.6 1403.6,3274.8 1409.7,3296.9 1422.0,3267.4 1426.9,3314.1 1431.8,3300.6 1442.4,3402.6 1449.0,3306.7 1454.0,3294.4 1458.9,3338.7 1464.5,3171.6 1469.8,3272.3 1475.2,3309.2 1480.9,3260.0 1485.8,3333.8 1490.7,3366.9 1496.9,3351.0 1503.0,3362.0 1509.1,3321.5 1514.1,3247.8 1519.0,3303.0 1525.1,3240.4 1531.3,3296.9 1534.9,3359.6 1540.6,3282.2 1546.0,3355.9 1552.1,3407.5 1557.1,3339.9 1563.2,3337.4 1568.1,3328.8 1573.5,3272.3 1579.2,3341.1 1585.3,3352.2 1590.2,3279.7 1595.1,3355.9 1601.3,3355.9 1606.2,3347.3 1611.6,3409.9 1617.2,3333.8 1622.7,3253.9 1628.3,3359.6 1634.4,3331.3 1644.3,3365.7 1649.2,3316.6 1655.3,3418.5 1665.2,3357.1 1671.3,3370.6 1676.2,3346.0 1682.4,3337.4 1687.3,3381.7 1693.4,3346.0 1699.6,3347.3 1704.5,3427.1 1706.4,3424.7" fill="none" stroke="#000" stroke-width="2.6" stroke-dasharray="9.5 4 2.5 4" stroke-linejoin="miter"/></g><rect x="206.5" y="2582.0" width="1500.8" height="904.5" fill="none" stroke="#262626" stroke-width="2"/><path d="M209.3,3486.5v-13M209.3,2582.0v13M396.8,3486.5v-13M396.8,2582.0v13M584.3,3486.5v-13M584.3,2582.0v13M771.8,3486.5v-13M771.8,2582.0v13M959.3,3486.5v-13M959.3,2582.0v13M1146.8,3486.5v-13M1146.8,2582.0v13M1334.3,3486.5v-13M1334.3,2582.0v13M1521.8,3486.5v-13M1521.8,2582.0v13M206.5,3481.0h15M1707.3,3481.0h-15M206.5,3198.5h15M1707.3,3198.5h-15M206.5,2916.0h15M1707.3,2916.0h-15M206.5,2633.5h15M1707.3,2633.5h-15" stroke="#262626" stroke-width="2" fill="none"/><text transform="translate(209.3,3538.5) scale(1.4500,1)" font-size="31.5" text-anchor="middle" fill="#262626">0</text><text transform="translate(396.8,3538.5) scale(1.4500,1)" font-size="31.5" text-anchor="middle" fill="#262626">0.5</text><text transform="translate(584.3,3538.5) scale(1.4500,1)" font-size="31.5" text-anchor="middle" fill="#262626">1</text><text transform="translate(771.8,3538.5) scale(1.4500,1)" font-size="31.5" text-anchor="middle" fill="#262626">1.5</text><text transform="translate(959.3,3538.5) scale(1.4500,1)" font-size="31.5" text-anchor="middle" fill="#262626">2</text><text transform="translate(1146.8,3538.5) scale(1.4500,1)" font-size="31.5" text-anchor="middle" fill="#262626">2.5</text><text transform="translate(1334.3,3538.5) scale(1.4500,1)" font-size="31.5" text-anchor="middle" fill="#262626">3</text><text transform="translate(1521.8,3538.5) scale(1.4500,1)" font-size="31.5" text-anchor="middle" fill="#262626">3.5</text><text transform="translate(185.0,3492.5) scale(1.4500,1)" font-size="31.5" text-anchor="end" fill="#262626">0</text><text transform="translate(185.0,3210.0) scale(1.4500,1)" font-size="31.5" text-anchor="end" fill="#262626">5</text><text transform="translate(185.0,2927.5) scale(1.4500,1)" font-size="31.5" text-anchor="end" fill="#262626">10</text><text transform="translate(185.0,2645.0) scale(1.4500,1)" font-size="31.5" text-anchor="end" fill="#262626">15</text><rect x="587.8" y="2592.7" width="1091" height="156.8" fill="#fff" stroke="#262626" stroke-width="2"/><path d="M602,2622.4H739.5" stroke="#0072bd" stroke-width="2.2"/><path d="M602,2672H739.5" stroke="#f00014" stroke-width="2.4" stroke-dasharray="14 5 3 5"/><path d="M602,2721.2H739.5" stroke="#000" stroke-width="2.4" stroke-dasharray="14 5 3 5"/><text transform="translate(753.0,2639.5)" font-size="46" textLength="516" lengthAdjust="spacingAndGlyphs">SOCT measurement</text><text transform="translate(753.0,2688.7)" font-size="46" textLength="893" lengthAdjust="spacingAndGlyphs">Approximation using fifth order MMP</text><text transform="translate(753.0,2737.5)" font-size="46" textLength="907" lengthAdjust="spacingAndGlyphs">Approximation using third order MMP</text><text transform="translate(709,3594.8)" font-size="46.6" font-weight="bold" fill="#262626" textLength="496" lengthAdjust="spacingAndGlyphs">Wavelength(<tspan font-style="italic" font-weight="bold" font-family='"Liberation Serif", "DejaVu Serif", serif'>µ</tspan>m)</text><text transform="translate(108.5,3264.5) rotate(-90)" font-size="65" font-weight="bold" fill="#262626" textLength="468" lengthAdjust="spacingAndGlyphs">Intensity (arb. units)</text></g>
<text x='878.6' y='1356.1' font-family='"Liberation Serif", "DejaVu Serif", serif' font-size='85.4'>(</text><text x='905.7' y='1357.0' font-family='"Liberation Serif", "DejaVu Serif", serif' font-size='80' font-weight='bold'>a</text><text x='947.8' y='1356.1' font-family='"Liberation Serif", "DejaVu Serif", serif' font-size='85.4'>)</text><text x='873.7' y='2391.2' font-family='"Liberation Serif", "DejaVu Serif", serif' font-size='85.4'>(</text><text x='900.5' y='2392.5' font-family='"Liberation Serif", "DejaVu Serif", serif' font-size='86' font-weight='bold'>b</text><text x='951.5' y='2391.2' font-family='"Liberation Serif", "DejaVu Serif", serif' font-size='85.4'>)</text><text x='880.8' y='3710.0' font-family='"Liberation Serif", "DejaVu Serif", serif' font-size='85.4'>(</text><text x='908.6' y='3711.3' font-family='"Liberation Serif", "DejaVu Serif", serif' font-size='80' font-weight='bold'>c</text><text x='944.5' y='3710.0' font-family='"Liberation Serif", "DejaVu Serif", serif' font-size='85.4'>)</text>
</svg>
</body></html>
